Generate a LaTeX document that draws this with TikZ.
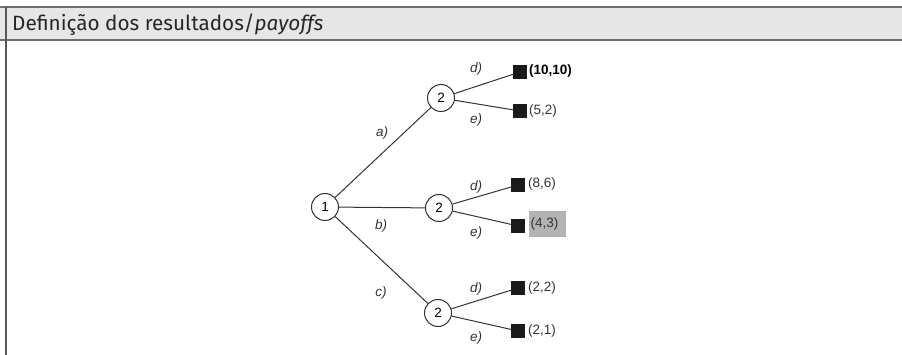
\documentclass[tikz,border=0pt]{standalone}
\usepackage{fontspec}
\setmainfont{Liberation Sans}
\newfontfamily\titlefont{Fira Sans}
\definecolor{headbg}{HTML}{E6E6E6}
\definecolor{rulegray}{HTML}{6E6E6E}
\definecolor{linegray}{HTML}{333333}
\definecolor{boxgray}{HTML}{B3B3B3}
\definecolor{sqblack}{HTML}{1A1A1A}
\begin{document}
\begin{tikzpicture}[x=1pt,y=-1pt,
  decision/.style={circle, draw=linegray, line width=1pt, fill=white, minimum size=27pt, inner sep=0pt, font=\fontsize{13.5}{13.5}\selectfont},
  terminal/.style={rectangle, fill=sqblack, minimum size=14pt, inner sep=0pt},
  edge/.style={draw=linegray, line width=1pt},
  payoff/.style={anchor=west, inner sep=1pt, font=\fontsize{13.5}{13.5}\selectfont, text=linegray},
  branch/.style={font=\fontsize{13.5}{13.5}\selectfont\itshape, text=linegray, inner sep=0pt}
]
\useasboundingbox (0,0) rectangle (902,355);
% header
\fill[headbg] (0,7) rectangle (902,40);
\draw[rulegray, line width=1.4pt] (0,7) -- (902,7);
\draw[rulegray, line width=1.4pt] (0,40) -- (902,40);
\draw[rulegray!80!black, line width=1.4pt] (6,7) -- (6,355);
\node[anchor=base west, inner sep=0pt, font=\titlefont\fontsize{20.7}{20.7}\selectfont, text=black!85] (title) at (12,31) {Definição dos resultados/\textit{payoffs}};

% tree nodes
\node[decision] (n1) at (325,207) {1};
\node[decision] (t2) at (441,98) {2};
\node[decision] (m2) at (439,208) {2};
\node[decision] (b2) at (438,313) {2};

\node[terminal] (s1) at (520,72) {};
\node[terminal] (s2) at (520,111) {};
\node[terminal] (s3) at (518,185) {};
\node[terminal] (s4) at (518,226) {};
\node[terminal] (s5) at (518,288) {};
\node[terminal] (s6) at (518,331) {};

\draw[edge] (n1) -- (t2);
\draw[edge] (n1) -- (m2);
\draw[edge] (n1) -- (b2);
\draw[edge] (t2) -- (s1);
\draw[edge] (t2) -- (s2);
\draw[edge] (m2) -- (s3);
\draw[edge] (m2) -- (s4);
\draw[edge] (b2) -- (s5);
\draw[edge] (b2) -- (s6);

% payoffs
\node[payoff, font=\fontsize{13.5}{13.5}\selectfont\bfseries, text=black] (p1) at (528,71) {(10,10)};
\node[payoff] (p2) at (528,111) {(5,2)};
\node[payoff] (p3) at (527,184) {(8,6)};
\node[payoff, fill=boxgray, text width=34pt, inner xsep=1.5pt, minimum height=26pt] (p4) at (529,224) {(4,3)};
\node[payoff] (p5) at (527,288) {(2,2)};
\node[payoff] (p6) at (527,331) {(2,1)};

% branch labels
\node[branch] (la) at (382,133) {a)};
\node[branch] (lb) at (381,226) {b)};
\node[branch] (lc) at (381,293) {c)};
\node[branch] (ld1) at (476,69) {d)};
\node[branch] (le1) at (476,120) {e)};
\node[branch] (ld2) at (476,187) {d)};
\node[branch] (le2) at (476,233) {e)};
\node[branch] (ld3) at (476,289) {d)};
\node[branch] (le3) at (476,338) {e)};
\end{tikzpicture}
\end{document}
